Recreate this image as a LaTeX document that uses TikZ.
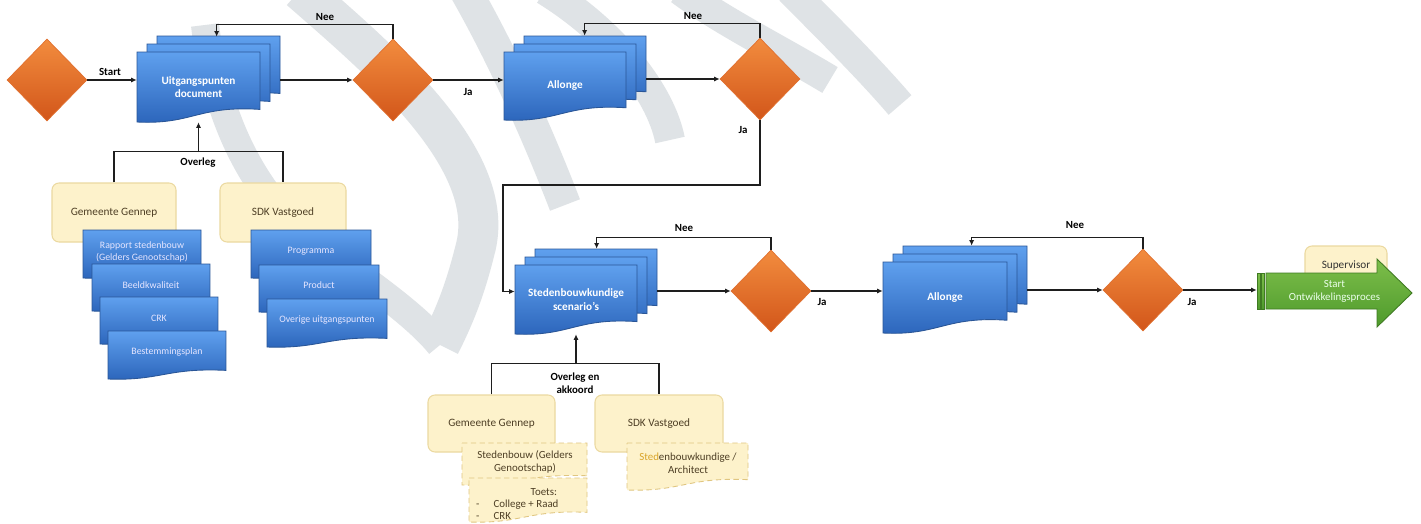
\documentclass[tikz,border=0pt]{standalone}
\usepackage{fontspec}
\setmainfont{Carlito}
\usetikzlibrary{shapes.geometric,calc,arrows.meta}
\definecolor{wm}{HTML}{DFE3E6}
\definecolor{orTop}{HTML}{F28C3E}
\definecolor{orBot}{HTML}{D2561A}
\definecolor{orBd}{HTML}{E07030}
\definecolor{blTop}{HTML}{5FA0EE}
\definecolor{blBot}{HTML}{2B64BA}
\definecolor{blBd}{HTML}{2A5697}
\definecolor{yFill}{HTML}{FDF2CB}
\definecolor{yBd}{HTML}{EBD9A0}
\definecolor{yDash}{HTML}{E0C680}
\definecolor{yTxt}{HTML}{4E3F25}
\definecolor{goldT}{HTML}{D9A52A}
\definecolor{grTop}{HTML}{7DBE4A}
\definecolor{grBot}{HTML}{4E9A2C}
\definecolor{grBd}{HTML}{3F7A22}
\definecolor{lineC}{HTML}{1E1E1E}
\newcommand{\bdoc}[4]{\draw[bluedoc] (#1,#2) -- (#1+#3,#2) -- (#1+#3,#2+0.82*#4) .. controls (#1+0.5*#3,#2+0.76*#4) and (#1+0.45*#3,#2+1.04*#4) .. (#1,#2+#4) -- cycle;}
\newcommand{\bstack}[4]{\bdoc{#1+20}{#2-16}{#3}{#4}\bdoc{#1+10}{#2-8}{#3}{#4}\bdoc{#1}{#2}{#3}{#4}}
\newcommand{\ydoc}[4]{\draw[yeldoc] (#1,#2) -- (#1+#3,#2) -- (#1+#3,#2+0.78*#4) .. controls (#1+0.5*#3,#2+0.72*#4) and (#1+0.45*#3,#2+1.04*#4) .. (#1,#2+#4) -- cycle;}
\tikzset{
  box/.style 2 args={minimum width=#1*0.02cm, minimum height=#2*0.02cm, inner sep=0pt},
  bluedoc/.style={top color=blTop, bottom color=blBot, draw=blBd, line width=0.5pt},
  yeldoc/.style={fill=yFill, draw=yDash, line width=0.5pt, dash pattern=on 3pt off 2pt},
  doctext/.style={text=white, font=\bfseries\fontsize{6.4}{7.6}\selectfont, align=center},
  intext/.style={text=white!90!blue, font=\fontsize{5.6}{6.6}\selectfont, align=center},
  dia/.style={diamond, minimum width=80*0.02cm, minimum height=82*0.02cm, inner sep=0pt, top color=orTop, bottom color=orBot, draw=orBd, line width=0.4pt},
  ybox/.style={rounded corners=4pt, fill=yFill, draw=yBd, line width=0.6pt, text=yTxt, font=\fontsize{6.4}{7.6}\selectfont, align=center},
  ytext/.style={text=yTxt, font=\fontsize{6.2}{7.4}\selectfont, align=center},
  lbl/.style={text=black, font=\bfseries\fontsize{6.2}{7.2}\selectfont, align=center},
  conn/.style={draw=lineC, line width=0.8pt},
  arr/.style={conn, -{Latex[length=3.2pt,width=3pt]}},
  wmband/.style={draw=wm, line width=#1*0.02cm},
  greenarr/.style={top color=grTop, bottom color=grBot, draw=grBd, line width=0.5pt}
}
\begin{document}
\begin{tikzpicture}[x=0.02cm,y=-0.02cm]
\useasboundingbox (0,0) rectangle (1421,524);
\fill[white] (0,0) rectangle (1421,524);
% watermark
\draw[wmband=40] (300,-10) .. controls (380,60) and (500,160) .. (475,250) .. controls (465,290) and (455,315) .. (440,345);
\draw[wmband=28] (205,25) .. controls (215,110) and (250,200) .. (330,255) .. controls (380,290) and (420,320) .. (440,345);
\draw[wmband=32] (465,-10) .. controls (505,60) and (540,140) .. (565,205);
\draw[wmband=30] (545,-10) .. controls (610,30) and (660,90) .. (670,140);
\draw[wmband=30] (680,-10) .. controls (720,20) and (780,50) .. (830,80);
\draw[wmband=30] (790,-10) .. controls (830,30) and (870,70) .. (900,105);

% diamonds
\node[dia] (d0) at (47,80) {};
\node[dia] (d1) at (393,80) {};
\node[dia] (d2) at (760,79) {};
\node[dia] (d3) at (771,291) {};
\node[dia] (d4) at (1143,290) {};

% stacks
\bstack{137}{52}{123}{70}
\node[box={143}{85}] (s1) at (208.5,79.5) {};
\node[box={123}{70}, doctext] (s1t) at (198.5,87) {Uitgangspunten\\document};
\bstack{504}{52}{122}{68}
\node[box={142}{84}] (a1) at (575,78) {};
\node[box={122}{68}, doctext] (a1t) at (565,86) {Allonge};
\bstack{515}{265}{122}{69}
\node[box={142}{85}] (s3) at (586,291.5) {};
\node[box={122}{69}, doctext] (s3t) at (576,299.5) {Stedenbouwkundige\\scenario's};
\bstack{883}{262}{124}{71}
\node[box={144}{87}] (a2) at (955,289.5) {};
\node[box={124}{71}, doctext] (a2t) at (945,297.5) {Allonge};

% yellow boxes
\node[box={124}{59}, ybox] (g1) at (114,212.5) {Gemeente Gennep};
\node[box={126}{59}, ybox] (g2) at (283,212.5) {SDK Vastgoed};
\node[box={127}{57}, ybox] (g3) at (491.5,423.5) {Gemeente Gennep};
\node[box={128}{57}, ybox] (g4) at (659,423.5) {SDK Vastgoed};

% input documents
\bdoc{83}{230}{118}{48}
\node[intext] (i1) at (142,252) {Rapport stedenbouw\\(Gelders Genootschap)};
\bdoc{92}{264}{118}{47}
\node[intext] (i2) at (151,285) {Beeldkwaliteit};
\bdoc{100}{297}{118}{47}
\node[intext] (i3) at (159,318) {CRK};
\bdoc{108}{331}{118}{48}
\node[intext] (i4) at (167,352) {Bestemmingsplan};
\bdoc{251}{230}{120}{48}
\node[intext] (i5) at (311,251) {Programma};
\bdoc{259}{265}{120}{47}
\node[intext] (i6) at (319,285) {Product};
\bdoc{267}{299}{120}{48}
\node[intext] (i7) at (327,320) {Overige uitgangspunten};

% yellow documents
\ydoc{462}{443}{125}{42}
\node[ytext] (y1) at (525,462) {Stedenbouw (Gelders\\Genootschap)};
\ydoc{469}{478}{118}{44}
\node[ytext, anchor=north west, align=left] (y2) at (470,481) {\renewcommand{\arraystretch}{0.92}\begin{tabular}{@{}l@{\hspace{8pt}}l@{}}\multicolumn{2}{@{}l}{\hspace*{31pt}Toets:}\\-&College + Raad\\-&CRK\end{tabular}};
\ydoc{627}{443}{121}{47}
\node[ytext] (y3) at (688,463) {\textcolor{goldT}{Sted}enbouwkundige /\\Architect};

% supervisor + green arrow
\node[box={82}{40}, ybox, text=black!80] (sup) at (1346,266) {Supervisor};
\draw[greenarr] (1266,273) -- (1377,273) -- (1377,259) -- (1412,293) -- (1377,327) -- (1377,309) -- (1266,309) -- cycle;
\draw[greenarr] (1257,273) rectangle (1260,309);
\draw[greenarr] (1261.5,273) rectangle (1264.5,309);
\node[box={155}{36}, text=white!92!green, font=\fontsize{6.2}{7.4}\selectfont, align=center] (ga) at (1334.5,291) {Start\\Ontwikkelingsproces};

% connectors
\draw[arr] (d0.east) -- (d0.east -| s1.west);
\node[lbl] (lstart) at (110,72) {Start};
\draw[arr] (d1.west -| s1.east) -- (d1.west);
\draw[arr] (d1.north) -- ++(0,-14) -| ($(s1.north west)+(80,0)$);
\node[lbl] (n1) at (325,17) {Nee};
\draw[arr] (d1.east) -- (d1.east -| a1.west);
\node[lbl] (j1) at (468,92) {Ja};
\draw[arr] (d2.west -| a1.east) -- (d2.west);
\draw[arr] (d2.north) -- ++(0,-14) -| ($(a1.north west)+(81,0)$);
\node[lbl] (n2) at (693,16) {Nee};
\coordinate (jt) at (503,185);
\draw[arr] (d2.south) |- (jt) |- (s3.west);
\node[lbl] (j2) at (743,130) {Ja};
\draw[arr] (d3.west -| s3.east) -- (d3.west);
\draw[arr] (d3.north) -- ++(0,-12) -| ($(s3.north west)+(82,0)$);
\node[lbl] (n3) at (684,228) {Nee};
\draw[arr] (d3.east) -- (d3.east -| a2.west);
\node[lbl] (j3) at (822,302) {Ja};
\draw[arr] (d4.west -| a2.east) -- (d4.west);
\draw[arr] (d4.north) -- ++(0,-11) -| ($(a2.north west)+(89,0)$);
\node[lbl] (n4) at (1075,225) {Nee};
\draw[arr] (d4.east) -- (d4.east -| ga.west);
\node[lbl] (j4) at (1192,302) {Ja};

% overleg
\draw[conn] (g1.north) -- ++(0,-31) -| (g2.north);
\coordinate (ov1) at (198.5,152);
\draw[arr] (ov1) -- (s1t.south);
\node[lbl] (ol1) at (198,163) {Overleg};
\draw[conn] (g3.north) -- ++(0,-31) -| (g4.north);
\coordinate (ov2) at (576,364);
\draw[arr] (ov2) -- (s3t.south);
\node[lbl] (ol2) at (575,383) {Overleg en\\akkoord};
\end{tikzpicture}
\end{document}
